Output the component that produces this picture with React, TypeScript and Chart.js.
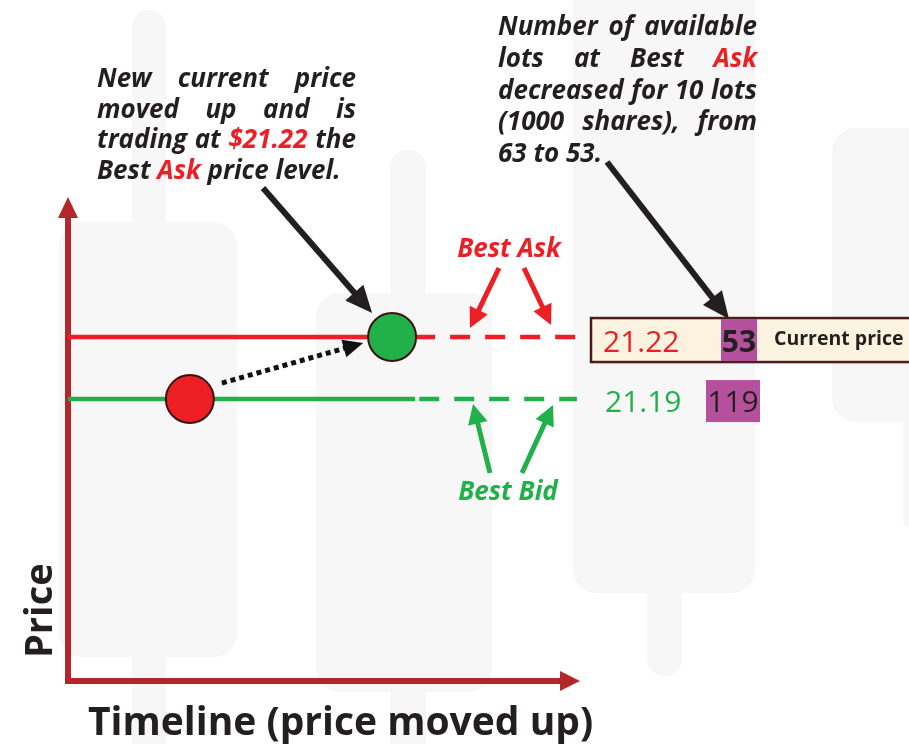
import React, { useEffect, useRef } from "react";
import { Chart, registerables } from "chart.js";

Chart.register(...registerables);

// ---- data ----
const priceLevelNames = ["Best Ask", "Best Bid"];
const levelPrices = [21.22, 21.19]; // ask, bid
const lotsAtLevel = [53, 119]; // ask, bid
const previousAskLots = 63;
const tradeTimes = [2.38, 6.33]; // old trade (red), new trade (green)
const tradePrices = [21.19, 21.22];
const askSolidTimes = [0, 6.33];
const askDashTimes = [6.78, 9.94];
const bidSolidTimes = [0, 6.78];
const bidDashTimes = [6.84, 9.94];
const timeRange = [0, 10];
const priceRange = [21.0536, 21.2863];

const leftNote = [
  [["New"], ["current"], ["price"]],
  [["moved"], ["up"], ["and"], ["is"]],
  [["trading"], ["at"], ["$21.22", "red"], ["the"]],
  [["Best"], ["Ask", "red"], ["price"], ["level."]],
];
const rightNote = [
  [["Number"], ["of"], ["available"]],
  [["lots"], ["at"], ["Best"], ["Ask", "red"]],
  [["decreased"], ["for"], ["10"], ["lots"]],
  [["(1000"], ["shares),"], ["from"]],
  [["" + previousAskLots], ["to"], [lotsAtLevel[0] + "."]],
];

const RED = "#ED1F24";
const GREEN = "#22B04B";
const DARK = "#231F20";
const AXIS = "#B2282A";
const PURPLE = "#B5519C";
const WM = "#f7f7f7";

function arrow(ctx: CanvasRenderingContext2D, x1: number, y1: number, x2: number, y2: number, color: string, w: number, hl: number, hw: number, dash?: number[]) {
  const dx = x2 - x1, dy = y2 - y1;
  const len = Math.hypot(dx, dy);
  const ux = dx / len, uy = dy / len;
  const bx = x2 - ux * hl, by = y2 - uy * hl;
  ctx.save();
  ctx.strokeStyle = color;
  ctx.fillStyle = color;
  ctx.lineWidth = w;
  ctx.lineCap = "butt";
  if (dash) ctx.setLineDash(dash);
  ctx.beginPath();
  ctx.moveTo(x1, y1);
  ctx.lineTo(bx + ux * 2, by + uy * 2);
  ctx.stroke();
  ctx.setLineDash([]);
  ctx.beginPath();
  ctx.moveTo(x2, y2);
  ctx.lineTo(bx - uy * hw, by + ux * hw);
  ctx.lineTo(bx + uy * hw, by - ux * hw);
  ctx.closePath();
  ctx.fill();
  ctx.restore();
}

function justified(ctx: CanvasRenderingContext2D, lines: string[][][], x: number, width: number, y0: number, lh: number, font: string) {
  ctx.save();
  ctx.font = font;
  ctx.textBaseline = "alphabetic";
  ctx.textAlign = "left";
  lines.forEach((words, i) => {
    const widths = words.map((w) => ctx.measureText(w[0]).width);
    const total = widths.reduce((a, b) => a + b, 0);
    const last = i === lines.length - 1;
    const gap = last ? ctx.measureText(" ").width : (width - total) / (words.length - 1);
    let cx = x;
    words.forEach((w, j) => {
      ctx.fillStyle = w[1] === "red" ? RED : DARK;
      ctx.fillText(w[0], cx, y0 + i * lh);
      cx += widths[j] + gap;
    });
  });
  ctx.restore();
}

const decorPlugin = {
  id: "decor",
  beforeDraw(chart: any) {
    const ctx: CanvasRenderingContext2D = chart.ctx;
    ctx.save();
    ctx.fillStyle = "#ffffff";
    ctx.fillRect(0, 0, chart.width, chart.height);
    ctx.fillStyle = WM;
    const rr = (x: number, y: number, w: number, h: number, r: number) => {
      ctx.beginPath();
      (ctx as any).roundRect(x, y, w, h, r);
      ctx.fill();
    };
    // faint candlestick watermark
    rr(132, 10, 34, 230, 17);
    rr(59, 222, 178, 435, 24);
    rr(132, 630, 34, 130, 17);
    rr(390, 150, 36, 160, 18);
    rr(316, 293, 176, 399, 24);
    rr(390, 680, 36, 80, 17);
    rr(573, -30, 182, 623, 24);
    rr(647, 570, 35, 106, 17);
    rr(832, 128, 110, 294, 24);
    rr(903, 380, 30, 150, 12);
    ctx.restore();
  },
  beforeDatasetsDraw(chart: any) {
    const ctx: CanvasRenderingContext2D = chart.ctx;
    const a = chart.chartArea;
    ctx.save();
    ctx.strokeStyle = AXIS;
    ctx.fillStyle = AXIS;
    ctx.lineWidth = 6;
    ctx.beginPath();
    ctx.moveTo(a.left, a.bottom + 3);
    ctx.lineTo(a.left, a.top + 16);
    ctx.stroke();
    ctx.beginPath();
    ctx.moveTo(a.left - 3, a.bottom);
    ctx.lineTo(a.right - 18, a.bottom);
    ctx.stroke();
    ctx.beginPath();
    ctx.moveTo(a.left, a.top - 3);
    ctx.lineTo(a.left - 10, a.top + 18);
    ctx.lineTo(a.left + 10, a.top + 18);
    ctx.closePath();
    ctx.fill();
    ctx.beginPath();
    ctx.moveTo(a.right, a.bottom);
    ctx.lineTo(a.right - 20, a.bottom - 10);
    ctx.lineTo(a.right - 20, a.bottom + 10);
    ctx.closePath();
    ctx.fill();
    ctx.restore();
  },
  afterDatasetsDraw(chart: any) {
    const ctx: CanvasRenderingContext2D = chart.ctx;
    const xs = chart.scales.x, ys = chart.scales.y;
    const askY = ys.getPixelForValue(levelPrices[0]);
    const bidY = ys.getPixelForValue(levelPrices[1]);
    const rx = xs.getPixelForValue(tradeTimes[0]);
    const ry = ys.getPixelForValue(tradePrices[0]);
    const gx = xs.getPixelForValue(tradeTimes[1]);
    const gy = ys.getPixelForValue(tradePrices[1]);

    // dotted move arrow
    arrow(ctx, rx + 32, ry - 16, gx - 29, gy + 6, "#111111", 5, 20, 9, [5, 4]);
    // black callout arrows
    arrow(ctx, 263, 188, gx - 20, gy - 24, "#231F20", 6, 27, 12);
    arrow(ctx, 607, 162, 729, askY - 18, "#231F20", 6, 27, 12);
    // Best Ask arrows
    arrow(ctx, 499, 268, 470, askY - 9, RED, 5, 20, 10);
    arrow(ctx, 524, 268, 551, askY - 12, RED, 5, 20, 10);
    // Best Bid arrows
    arrow(ctx, 490, 473, 473, bidY + 5, GREEN, 5, 20, 10);
    arrow(ctx, 522, 473, 553, bidY + 6, GREEN, 5, 20, 10);

    ctx.save();
    ctx.textBaseline = "alphabetic";
    ctx.textAlign = "center";
    ctx.font = 'italic 700 26px "Open Sans"';
    ctx.fillStyle = RED;
    ctx.fillText(priceLevelNames[0], 509, 257);
    ctx.fillStyle = GREEN;
    ctx.fillText(priceLevelNames[1], 508, 500);
    ctx.restore();

    // order book box
    ctx.save();
    ctx.fillStyle = "#FBF2E0";
    ctx.fillRect(591, askY - 19, 330, 44);
    ctx.strokeStyle = "#4B1D1D";
    ctx.lineWidth = 2.5;
    ctx.strokeRect(591, askY - 19, 330, 44);
    ctx.fillStyle = PURPLE;
    ctx.fillRect(721, askY - 18, 36, 42);
    ctx.fillRect(706, bidY - 19, 54, 42);
    ctx.textAlign = "left";
    ctx.font = '400 30px "Open Sans"';
    ctx.fillStyle = RED;
    ctx.fillText(levelPrices[0].toFixed(2), 603, askY + 15);
    ctx.fillStyle = GREEN;
    ctx.fillText(levelPrices[1].toFixed(2), 605, bidY + 13);
    ctx.textAlign = "center";
    ctx.fillStyle = DARK;
    ctx.fillText(String(lotsAtLevel[1]), 733, bidY + 13);
    ctx.font = '700 30px "Open Sans"';
    ctx.fillText(String(lotsAtLevel[0]), 739, askY + 15);
    ctx.textAlign = "left";
    ctx.font = '700 19.5px "Open Sans"';
    ctx.fillText("Current price", 774, askY + 8);
    ctx.restore();

    // notes
    justified(ctx, leftNote, 97, 259, 87, 30.5, 'italic 700 26px "Open Sans"');
    justified(ctx, rightNote, 498, 259, 35, 31.75, 'italic 700 26px "Open Sans"');

    // axis titles
    ctx.save();
    ctx.fillStyle = DARK;
    ctx.font = '700 39px "Open Sans"';
    ctx.textAlign = "left";
    ctx.fillText("Timeline (price moved up)", 88, 735);
    ctx.translate(52, 658);
    ctx.rotate(-Math.PI / 2);
    ctx.font = '700 38px "Open Sans"';
    ctx.fillText("Price", 0, 0);
    ctx.restore();
  },
};

export default function App() {
  const ref = useRef<HTMLCanvasElement>(null);
  useEffect(() => {
    document.body.style.margin = "0";
    const pts = (times: number[], price: number) => times.map((t) => ({ x: t, y: price }));
    const chart = new Chart(ref.current!, {
      type: "line",
      data: {
        datasets: [
          {
            data: tradeTimes.map((t, i) => ({ x: t, y: tradePrices[i] })),
            showLine: false,
            pointRadius: 24,
            pointBackgroundColor: [RED, GREEN],
            pointBorderColor: "#3A1212",
            pointBorderWidth: 2,
            clip: false,
          } as any,
          { data: pts(askSolidTimes, levelPrices[0]), borderColor: RED, borderWidth: 4.5, pointRadius: 0, clip: false } as any,
          { data: pts(askDashTimes, levelPrices[0]), borderColor: RED, borderWidth: 4.5, borderDash: [20, 15], pointRadius: 0, clip: false } as any,
          { data: pts(bidSolidTimes, levelPrices[1]), borderColor: GREEN, borderWidth: 4.5, pointRadius: 0, clip: false } as any,
          { data: pts(bidDashTimes, levelPrices[1]), borderColor: GREEN, borderWidth: 4.5, borderDash: [20, 15], borderDashOffset: -1, pointRadius: 0, clip: false } as any,
        ],
      },
      options: {
        animation: false,
        responsive: false,
        devicePixelRatio: 1,
        layout: { padding: { left: 68, right: 329, top: 200, bottom: 63 } },
        plugins: { legend: { display: false }, tooltip: { enabled: false } },
        events: [],
        scales: {
          x: { type: "linear", min: timeRange[0], max: timeRange[1], display: false },
          y: { type: "linear", min: priceRange[0], max: priceRange[1], display: false },
        },
      },
      plugins: [decorPlugin],
    });
    return () => chart.destroy();
  }, []);
  return (
    <div style={{ position: "absolute", left: 0, top: 0, width: 909, height: 744 }}>
      <canvas ref={ref} width={909} height={744} style={{ display: "block" }} />
    </div>
  );
}
